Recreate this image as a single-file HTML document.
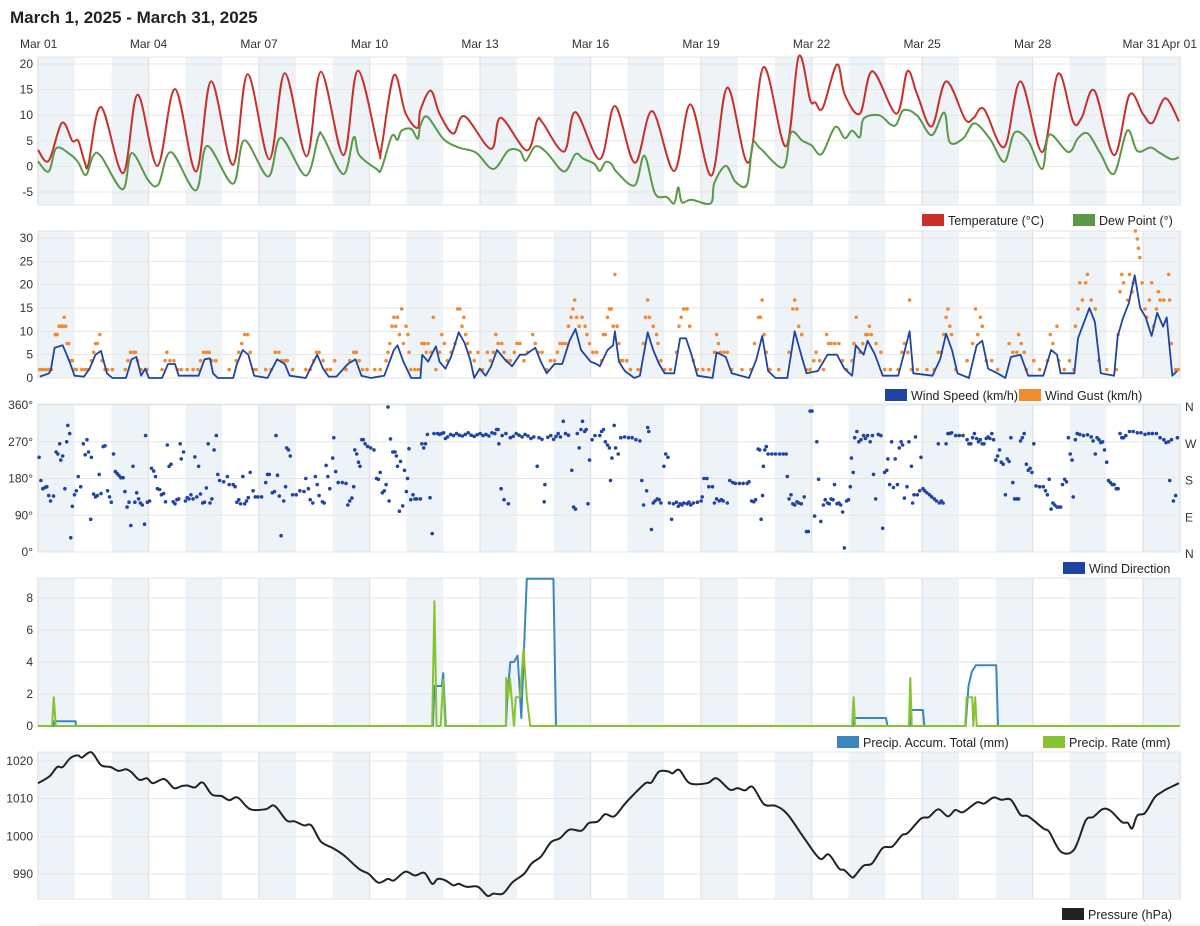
<!DOCTYPE html>
<html><head><meta charset="utf-8"><style>
html,body{margin:0;padding:0;background:#fff;width:1200px;height:926px;overflow:hidden}
svg{display:block;font-family:"Liberation Sans",Arial,sans-serif}
</style></head><body>
<svg id="chart" width="1200" height="926" viewBox="0 0 1200 926" xmlns="http://www.w3.org/2000/svg">
<text x="10" y="23" font-size="17" font-weight="bold" fill="#222">March 1, 2025 - March 31, 2025</text>
<g id="bg"></g><g id="marks"></g><g id="labels"></g>
</svg>
<script>
// ---------- data (days since Mar 01 00:00) ----------
const xTickLabels = ["Mar 01","Mar 04","Mar 07","Mar 10","Mar 13","Mar 16","Mar 19","Mar 22","Mar 25","Mar 28","Mar 31","Apr 01"];
const xTickDays = [0,3,6,9,12,15,18,21,24,27,30,31];

const tempDays = [0,0.29,0.65,0.93,1.09,1.27,1.37,1.71,2.31,2.70,3.24,3.72,4.29,4.70,5.29,5.69,6.28,6.70,7.29,7.68,8.29,8.68,9.24,9.32,9.66,9.97,10.30,10.38,10.66,10.9,11.27,11.58,12.30,12.56,13.27,13.55,13.7,14.28,14.59,15.25,15.66,16.2,16.67,17.27,17.71,18.28,18.71,19.28,19.70,20.30,20.65,20.96,21.1,21.3,21.69,21.9,22.31,22.65,23.3,23.6,23.87,24.26,24.65,25.17,25.4,25.68,26.23,26.67,27.26,27.69,28.10,28.33,28.68,29.21,29.63,29.99,30.25,30.6,30.97];
const tempVals = [3.2,1.1,8.5,5,5,0.8,0.5,11.6,-1.3,14,0.1,15.1,-1.0,16.6,0.3,18,1.4,18.2,2,18.5,2.2,18.7,3.4,3.4,17.8,10.5,7.5,11,14.8,10.3,6.4,9.8,3.4,9.5,3.1,9.0,8.5,2.9,10.6,1.4,11.8,0.7,10.8,-0.9,12.1,-1.8,15.4,0.7,19.4,3.9,21.5,13,12.5,11.4,19.9,14,10.3,18.6,10.3,18.6,14,7.8,16.6,9.2,9.5,11.2,3.8,16.6,2.8,18.1,8.7,9.5,14.8,2.2,14,10.3,8.5,13.3,8.8];

const dewDays = [0,0.29,0.5,0.88,1.09,1.3,1.5,1.71,2.3,2.54,3.0,3.27,3.61,4.28,4.59,5.29,5.6,6.25,6.59,7.27,7.61,7.74,8.29,8.57,8.72,9.19,9.32,9.6,9.76,9.87,10.13,10.31,10.38,10.57,11.0,11.42,11.89,12.36,12.77,13.08,13.24,13.5,13.81,14.28,14.59,14.8,15.1,15.25,15.4,15.56,15.72,16.2,16.46,16.75,17.07,17.27,17.38,17.48,17.74,18.26,18.36,18.67,18.93,19.25,19.4,19.61,20.23,20.44,20.75,21.0,21.27,21.64,21.9,22.1,22.31,22.41,22.83,23.14,23.3,23.5,23.87,24.26,24.6,24.75,25.12,25.42,25.84,26.23,26.51,26.88,27.26,27.45,27.97,28.23,28.5,28.84,29.21,29.57,29.84,30.2,30.4,30.76,30.97];
const dewVals = [1.0,-1.0,3.6,2.3,0.8,-1.7,2.1,2.0,-4.5,2.6,-2.8,-3.5,2.8,-4.7,4,-3.4,5.1,-2,5.6,-1.8,5.8,5.8,-1.5,5.7,2.2,-0.5,-0.5,5.9,5.2,7,7.3,5.4,8,9.7,5.4,3.7,2.7,-0.5,3.1,3,1.1,3.9,2.7,-1,2.4,1.5,0.5,-0.9,0.8,0.5,-1.2,-3.7,2.1,-5.3,-6,-7.2,-4.1,-7,-6.5,-7.2,-3.2,0.1,-3,-3.5,4.4,3.5,-0.2,6.6,5.0,4.1,2.4,7.7,5.5,7,5.7,9.3,10,8.2,8.2,11,9.9,6.1,10.5,4.7,5.5,8.4,5.4,0.9,6.6,5,-0.5,6.2,2.8,5.5,6.4,2.5,-1.4,7.0,3,3.7,2.9,1.4,1.8];

const windDays = [0.05,0.3,0.35,0.45,0.67,0.78,0.88,0.99,1.25,1.4,1.56,1.71,1.87,2.02,2.39,2.54,2.67,2.8,2.91,3.01,3.37,3.53,3.72,3.82,4.36,4.52,4.67,4.75,4.88,5.3,5.4,5.56,5.71,5.87,6.23,6.49,6.7,6.83,7.27,7.42,7.58,7.74,7.89,8.1,8.41,8.62,8.78,9.03,9.4,9.66,9.76,9.92,10.13,10.38,10.43,10.59,10.8,10.9,11.06,11.21,11.42,11.58,11.73,11.84,11.99,12.15,12.3,12.46,12.67,12.87,13.08,13.24,13.5,13.65,13.81,14.02,14.23,14.43,14.59,14.74,15.0,15.16,15.25,15.46,15.61,15.66,15.77,15.93,16.19,16.34,16.55,16.7,16.86,17.01,17.27,17.43,17.59,17.74,17.9,18.31,18.42,18.67,18.83,19.3,19.5,19.66,19.82,20.02,20.34,20.54,20.75,20.86,21.17,21.43,21.69,21.89,22.1,22.2,22.41,22.52,22.72,22.93,23.35,23.5,23.66,23.76,24.28,24.49,24.65,24.81,24.96,25.27,25.48,25.63,25.79,26.05,26.26,26.41,26.67,26.88,27.29,27.5,27.66,27.76,28.13,28.23,28.54,28.69,28.85,29.21,29.31,29.46,29.61,29.77,29.92,30.07,30.23,30.38,30.54,30.64,30.79,30.92];
const windVals = [0.3,1,1.8,6.5,7,5,3,0.5,0.3,2,5,5.8,1,0,0,4,4.5,0.5,2,0,0,3,3,0.5,0.5,4,4.2,1,0,0,3,6,5,0.5,0,4,3,0.5,0,2.5,5,2,0.3,0.3,3,4,0.5,0,0.5,6,7,3.5,0,0,5,3.5,6.8,3.5,2,4.5,9.8,7.5,4,0,2,0.5,2.5,6,4,2.5,5,5,6.5,3.5,1,3,3,8,10.5,6,3.5,3,2.5,6,7,10,3.5,1.5,0,0.5,9.8,6,3,1,1,8.5,8.5,5,0.5,0,5.5,4.5,1,0,4,9,1.5,0,0,10,4,1,1.5,5,5,2,0.5,7,5,8,5,0.5,0.5,5,10,1,0.5,4,9.5,6,1,0,7,8,2,1,0,4.5,5,0.5,0.5,6,5,1,1,8.5,15,12,1,0.5,9,13,16,22,15,13,9,14,11,13,0.5,1.5];

const gustDays = [0.05,0.12,0.21,0.29,0.36,0.47,0.52,0.57,0.62,0.67,0.71,0.75,0.79,0.83,0.88,0.93,0.99,1.04,1.19,1.27,1.35,1.45,1.51,1.56,1.61,1.68,1.74,1.82,1.89,2.02,2.37,2.44,2.51,2.6,2.65,2.7,2.8,2.96,3.37,3.45,3.5,3.58,3.69,3.79,3.89,4.05,4.21,4.34,4.41,4.49,4.57,4.65,4.72,4.83,5.19,5.38,5.45,5.53,5.61,5.69,5.76,5.84,5.92,6.18,6.33,6.44,6.54,6.61,6.7,6.77,6.91,7.27,7.39,7.48,7.56,7.63,7.74,7.84,7.94,8.05,8.36,8.46,8.57,8.64,8.72,8.81,8.93,9.14,9.29,9.45,9.5,9.55,9.61,9.66,9.71,9.76,9.81,9.87,9.92,9.99,10.04,10.07,10.12,10.23,10.33,10.42,10.49,10.54,10.59,10.67,10.73,10.8,10.9,10.96,11.03,11.11,11.21,11.32,11.39,11.45,11.51,11.56,11.61,11.66,11.73,11.84,11.94,12.07,12.2,12.28,12.36,12.43,12.49,12.59,12.65,12.72,12.82,12.93,13.0,13.08,13.19,13.29,13.43,13.5,13.58,13.68,13.81,13.91,14.02,14.1,14.17,14.25,14.33,14.4,14.47,14.52,14.57,14.62,14.69,14.77,14.85,14.9,14.97,15.06,15.16,
15.30,15.35,15.40,15.46,15.51,15.56,15.61,15.66,15.72,15.77,15.82,15.87,15.98,16.08,16.29,16.44,16.49,16.55,16.6,16.70,16.79,16.83,16.91,17.01,17.17,17.33,17.4,17.46,17.53,17.62,17.69,17.79,17.9,18.05,18.21,18.36,18.42,18.47,18.52,18.62,18.71,18.83,19.11,19.35,19.45,19.56,19.61,19.66,19.71,19.77,19.87,20.11,20.39,20.49,20.54,20.6,20.65,20.73,20.86,20.96,21.06,21.12,21.22,21.32,21.41,21.46,21.53,21.63,21.74,21.84,21.95,22.1,22.15,22.21,22.31,22.39,22.47,22.52,22.57,22.62,22.75,22.88,22.98,23.14,23.35,23.45,23.52,23.61,23.66,23.71,23.87,24.13,24.33,24.44,24.52,24.59,24.65,24.70,24.75,24.80,24.91,25.22,25.37,25.45,25.51,25.58,25.63,25.74,25.89,26.05,26.36,26.46,26.57,26.62,26.69,26.77,26.83,27.03,27.19,27.40,27.48,27.55,27.66,27.71,27.86,28.0,28.12,28.16,28.23,28.28,28.35,28.44,28.49,28.59,28.70,28.80,29.01,29.27,29.32,29.37,29.42,29.47,29.58,29.63,29.70,29.73,29.79,29.84,29.87,29.91,29.97,30.05,30.10,30.17,30.23,30.28,30.36,30.41,30.46,30.56,30.69,30.72,30.77,30.88,30.95];
const gustVals = [1.8,1.8,1.8,1.8,1.8,9.3,9.3,11.1,11.1,11.1,13,11.1,7.4,7.4,3.7,3.7,1.8,1.8,1.8,1.8,1.8,3.7,5.5,7.4,7.4,9.3,3.7,1.8,1.8,1.8,1.8,3.7,5.5,5.5,5.5,3.7,1.8,1.8,1.8,3.7,5.5,3.7,3.7,1.8,1.8,1.8,1.8,1.8,3.7,5.5,5.5,5.5,3.7,3.7,1.8,3.7,5.5,7.4,9.3,9.3,5.5,1.8,1.8,1.8,1.8,5.5,5.5,3.7,3.7,3.7,1.8,1.8,1.8,3.7,5.5,5.5,3.7,1.8,1.8,3.7,1.8,3.7,5.5,5.5,3.7,1.8,1.8,1.8,1.8,3.7,5.5,7.4,11.1,13,11.1,13,9.3,14.8,7.4,11.1,9.3,5.5,1.8,1.8,1.8,7.4,7.4,5.5,7.4,5.5,13,1.8,5.5,9.3,7.4,3.7,5.5,7.4,14.8,14.8,11.1,13,9.3,7.4,5.5,3.7,5.5,1.8,5.5,3.7,5.5,9.3,7.4,7.4,5.5,3.7,3.7,5.5,7.4,7.4,3.7,5.5,9.3,7.4,5.5,5.5,1.8,3.7,3.7,5.5,7.4,7.4,7.4,11.1,13,14.8,16.7,13,11.1,13,11.1,9.3,7.4,5.5,5.5,
3.7,9.3,9.3,13,14.8,14.8,11.1,22.2,11.1,7.4,3.7,3.7,3.7,1.8,1.8,7.4,13,16.7,13,11.1,9.3,7.4,3.7,1.8,1.8,5.5,11.1,13,14.8,14.8,11.1,3.7,1.8,1.8,1.8,5.5,9.3,7.4,5.5,5.5,5.5,1.8,1.8,1.8,7.4,13,13,16.7,9.3,5.5,1.8,1.8,5.5,14.8,16.7,14.8,11.1,9.3,1.8,1.8,3.7,5.5,3.7,1.8,9.3,7.4,7.4,7.4,7.4,3.7,1.8,3.7,7.4,13,5.5,7.4,9.3,9.3,11.1,9.3,7.4,5.5,1.8,1.8,1.8,5.5,7.4,5.5,16.7,1.8,1.8,1.8,1.8,5.5,5.5,9.3,13,14.8,11.1,9.3,1.8,3.7,7.4,14.8,9.3,13,11.1,3.7,3.7,1.8,7.4,5.5,5.5,9.3,7.4,5.5,1.8,3.7,1.8,3.7,9.3,7.4,11.1,3.7,1.8,3.7,1.8,11.1,14.8,20.4,16.7,20.4,22.2,16.7,14.8,3.7,1.8,1.8,9.3,18.5,22.2,20.4,16.7,22.2,18.5,20.4,31.5,29.8,27.8,25.8,20.4,14.8,13,16.7,20.4,11.1,14.8,18.5,16.7,16.7,22.2,16.7,7.4,1.8,1.8];

const dirDays = [0.03,0.08,0.13,0.19,0.24,0.29,0.34,0.42,0.49,0.54,0.59,0.62,0.67,0.73,0.78,0.81,0.86,0.89,0.93,0.99,1.04,1.09,1.16,1.23,1.28,1.33,1.37,1.43,1.45,1.51,1.56,1.61,1.66,1.71,1.77,1.82,1.89,1.94,1.99,2.05,2.1,2.15,2.2,2.25,2.31,2.36,2.42,2.47,2.52,2.58,2.63,2.68,2.73,2.78,2.83,2.89,2.92,2.97,3.03,3.08,3.14,3.19,3.24,3.3,3.35,3.41,3.46,3.51,3.56,3.61,3.67,3.72,3.77,3.82,3.86,3.89,3.95,4.0,4.05,4.1,4.15,4.21,4.26,4.31,4.36,4.41,4.47,4.52,4.57,4.62,4.67,4.72,4.78,4.84,4.88,4.93,5.04,5.14,5.19,5.3,5.35,5.4,5.45,5.5,5.56,5.61,5.66,5.71,5.76,5.84,5.9,5.97,6.07,6.18,6.23,6.28,6.36,6.42,6.46,6.5,6.55,6.6,6.67,6.72,6.75,6.8,6.85,6.91,7.01,7.11,7.22,7.27,7.34,7.39,7.46,7.53,7.58,7.63,7.72,7.77,7.82,7.87,7.92,8.0,8.03,8.08,8.15,8.26,8.36,8.41,8.46,8.52,8.57,8.6,8.65,8.7,8.74,8.79,8.83,8.88,8.95,9.03,9.12,9.19,9.24,9.29,9.35,9.4,9.45,9.5,9.53,9.57,9.63,9.69,9.73,9.76,9.81,9.84,9.9,9.95,10.0,10.03,10.07,10.12,10.18,10.23,10.28,10.38,10.42,10.47,10.52,10.57,10.64,10.7,10.75,10.85,10.9,10.96,11.01,11.06,
11.12,11.2,11.28,11.36,11.44,11.52,11.6,11.68,11.76,11.84,11.92,12.0,12.08,12.16,12.24,12.32,12.4,12.45,12.49,12.51,12.57,12.6,12.65,12.7,12.77,12.82,12.9,12.98,13.06,13.14,13.22,13.3,13.38,13.46,13.55,13.6,13.68,13.74,13.76,13.84,13.92,14.0,14.06,14.12,14.18,14.26,14.32,14.4,14.49,14.54,14.59,14.64,14.69,14.74,14.78,14.84,14.88,14.93,14.97,15.04,15.12,
15.25,15.30,15.35,15.40,15.46,15.51,15.54,15.58,15.64,15.68,15.75,15.82,15.92,16.03,16.13,16.23,16.34,16.39,16.44,16.52,16.55,16.58,16.65,16.70,16.75,16.81,16.86,16.91,16.99,17.04,17.10,17.14,17.20,17.25,17.33,17.38,17.43,17.48,17.53,17.62,17.67,17.72,17.79,17.9,18.0,18.03,18.08,18.16,18.21,18.31,18.36,18.42,18.49,18.55,18.6,18.71,18.78,18.86,18.93,19.04,19.14,19.25,19.3,19.37,19.43,19.48,19.55,19.59,19.63,19.67,19.69,19.73,19.77,19.82,19.92,20.02,20.13,20.23,20.31,20.34,20.39,20.44,20.49,20.54,20.6,20.65,20.72,20.8,20.86,20.91,20.96,21.01,21.08,21.14,21.19,21.25,21.32,21.37,21.43,21.48,21.53,21.58,21.62,21.69,21.74,21.79,21.84,21.89,21.95,22.0,22.05,22.08,22.13,22.17,22.23,22.28,22.34,22.41,22.46,22.52,22.59,22.65,22.68,22.74,22.81,22.88,22.93,22.98,23.04,23.07,23.12,23.17,23.22,23.27,23.33,23.38,23.43,23.47,23.52,23.59,23.64,23.71,23.74,23.78,23.82,23.87,23.93,23.97,24.02,24.07,24.13,24.2,24.26,24.33,24.39,24.44,24.47,24.52,24.57,24.65,24.70,24.75,24.80,24.91,25.01,25.11,25.22,25.27,25.32,25.37,25.42,25.48,25.53,25.58,25.63,25.68,25.74,25.79,25.84,25.89,25.94,26.0,26.05,26.1,26.15,26.2,26.26,26.31,26.36,26.41,26.46,26.51,26.57,26.62,26.67,26.72,26.77,26.83,26.88,26.93,26.98,27.03,27.09,27.19,27.29,27.35,27.4,27.45,27.5,27.55,27.6,27.66,27.71,27.76,27.81,27.87,27.92,27.97,28.02,28.07,28.1,28.16,28.21,28.28,28.38,28.49,28.59,28.64,28.7,28.75,28.8,28.85,28.9,28.95,29.01,29.06,29.11,29.16,29.21,29.27,29.32,29.37,29.42,29.47,29.53,29.63,29.73,29.84,29.94,30.05,30.15,30.25,30.36,30.46,30.56,30.62,30.69,30.72,30.77,30.82,30.88,30.93];
const dirVals = [232,175,155,158,160,138,125,137,245,240,265,225,235,155,270,310,290,35,112,140,150,185,160,265,238,275,245,80,232,142,135,138,190,143,258,260,150,135,122,240,197,192,187,182,182,148,110,122,65,210,122,145,130,120,115,68,285,122,125,205,198,185,155,153,140,143,123,262,210,215,123,118,128,130,265,228,245,125,133,130,140,130,233,135,210,142,120,122,157,265,120,130,250,285,190,175,172,185,165,165,160,122,128,118,185,118,125,133,195,150,135,135,135,170,190,190,145,148,285,188,137,40,125,160,255,250,235,140,140,150,148,180,155,128,120,185,165,138,123,120,212,185,155,230,280,197,170,170,168,115,125,132,160,250,240,220,210,275,275,265,258,255,250,180,178,195,145,150,165,355,125,277,245,245,235,210,100,222,113,200,148,180,253,128,140,130,130,130,265,255,265,288,133,45,290,290,288,290,292,278,
282,288,285,290,286,284,288,292,286,283,287,290,285,288,284,292,290,300,300,265,155,285,128,290,118,280,283,290,286,282,288,284,278,282,210,280,276,123,165,281,285,276,283,290,282,320,290,286,200,110,105,290,255,300,320,295,300,118,225,275,285,
285,295,300,270,262,255,175,230,310,255,240,280,282,280,280,275,272,175,115,150,305,295,55,120,125,130,128,120,210,240,232,120,80,118,122,112,118,115,120,118,122,115,120,122,125,135,180,180,160,160,120,130,125,128,125,120,175,170,168,168,168,168,172,125,123,128,252,250,80,138,210,250,258,240,240,240,240,240,240,185,130,140,118,115,123,120,118,135,50,50,345,345,88,270,178,75,115,128,120,118,130,128,165,118,120,115,98,10,125,128,160,230,195,280,295,270,275,285,278,285,270,285,190,130,288,285,58,195,200,228,165,270,158,228,165,255,270,262,132,160,270,210,120,140,282,140,150,232,155,150,145,140,135,130,125,265,120,125,120,265,290,290,292,285,285,285,275,265,265,280,290,278,270,275,265,265,278,282,278,290,275,225,235,250,220,215,140,228,222,280,170,130,130,130,272,280,290,215,200,205,195,265,162,160,160,150,140,178,105,120,115,110,110,110,165,178,172,280,240,225,135,275,290,288,285,287,282,272,240,280,275,268,270,250,220,175,170,165,165,155,155,290,280,280,285,295,295,292,292,288,290,290,290,280,275,268,270,175,275,125,138,280];

const accumDays = [0,0.43,0.44,1.02,1.03,10.72,10.76,10.96,11.0,11.07,12.70,12.74,12.82,12.92,13.02,13.12,13.27,13.99,14.06,22.13,22.16,23.02,23.06,23.67,23.70,24.02,24.06,25.18,25.26,25.35,25.46,26.01,26.06,31];
const accumVals = [0,0,0.3,0.3,0,0,2.5,2.5,3.3,0,0,1.8,4.0,4.0,4.4,0.5,9.2,9.2,0,0,0.5,0.5,0,0,1.0,1.0,0,0,2.5,3.4,3.8,3.8,0,0];
const rateDays = [0,0.38,0.43,0.48,10.70,10.76,10.82,10.93,11.0,11.05,12.70,12.71,12.76,12.81,12.92,12.97,13.08,13.18,13.27,13.36,22.10,22.14,22.18,23.64,23.68,23.72,25.17,25.21,25.36,25.39,25.44,25.48,31];
const rateVals = [0,0,1.8,0,0,7.8,0,0,2.9,0,0,3.0,1.8,3.0,0,1.8,1.8,4.8,1.8,0,0,1.8,0,0,3.0,0,0,1.8,1.8,0,1.8,0,0];

const presDays = [0.0,0.31,0.52,0.67,0.88,1.09,1.19,1.45,1.71,1.97,2.18,2.39,2.54,2.75,2.96,3.12,3.43,3.69,3.89,4.05,4.26,4.47,4.72,4.98,5.19,5.42,5.76,6.18,6.42,6.75,6.96,7.22,7.42,7.68,8.0,8.31,8.72,8.98,9.24,9.5,9.66,9.97,10.23,10.49,10.7,10.85,11.06,11.27,11.42,11.63,11.94,12.2,12.36,12.62,12.88,13.19,13.4,13.66,13.92,14.17,14.43,14.75,14.95,15.16,15.25,15.40,15.64,15.92,16.13,16.49,16.65,16.86,17.12,17.22,17.41,17.69,18.16,18.42,18.78,18.99,19.19,19.40,19.71,20.02,20.34,20.8,21.22,21.46,21.74,21.89,22.1,22.18,22.41,22.64,22.93,23.19,23.45,23.61,23.97,24.18,24.44,24.7,24.9,25.11,25.48,25.68,25.94,26.15,26.41,26.67,26.88,27.29,27.45,27.76,28.12,28.44,28.64,28.9,29.11,29.42,29.58,29.7,29.84,30.05,30.31,30.51,30.67,30.97];
const presVals = [1014.1,1015.9,1018.4,1018.4,1020.8,1021.5,1020.9,1022.3,1018.9,1018.4,1017.4,1017.8,1017.0,1015.0,1015.4,1014.1,1015.2,1012.8,1013.3,1013.5,1013.0,1014.3,1011.1,1010.7,1009.6,1010.3,1007.2,1007.2,1008.1,1004.2,1004.0,1002.9,1002.9,998.6,996.9,994.9,991.3,990.0,987.7,988.7,988.3,990.6,989.6,990.3,987.4,988.7,988.3,987.0,987.4,986.6,986.6,984.2,984.8,984.8,987.8,990.0,992.8,994.7,998.4,999.5,1001.8,1001.5,1003.5,1003.8,1004.4,1005.9,1005.3,1008.5,1010.7,1014.1,1014.3,1017.2,1017.2,1016.7,1017.6,1014.1,1014.1,1015.4,1012.4,1012.8,1012.2,1013.1,1008.5,1008.1,1005.9,999.5,994.1,995.2,991.5,991.0,989.1,989.6,992.2,992.8,996.9,997.3,1000.3,1000.9,1004.7,1005.1,1007.2,1005.3,1007.0,1006.4,1009.0,1008.7,1010.3,1009.7,1009.7,1005.7,1005.3,1002.1,1001.2,996.0,996.4,1004.2,1005.1,1007.2,1006.8,1003.8,1003.6,1002.1,1005.5,1006.2,1010.3,1011.8,1012.7,1014.1];

const tempTicks = [20,15,10,5,0,-5];
const windTicks = [30,25,20,15,10,5,0];
const dirTicks = [360,270,180,90,0];
const dirCompass = ["N","W","S","E","N"];
const precipTicks = [8,6,4,2,0];
const presTicks = [1020,1010,1000,990];

// ---------- layout ----------
const NS = "http://www.w3.org/2000/svg";
const X0 = 38, X1 = 1180, NDAYS = 31;
function xs(d){ return X0 + (X1 - X0) * d / NDAYS; }
function lin(v0, y0, v1, y1){ return v => y0 + (v - v0) * (y1 - y0) / (v1 - v0); }
const panels = [
  {name:"temperature", top:57, bottom:205, y:lin(20,64,-5,192), ticks:tempTicks, fmt:v=>String(v)},
  {name:"wind", top:231, bottom:378, y:lin(30,238,0,378), ticks:windTicks, fmt:v=>String(v)},
  {name:"direction", top:404, bottom:552, y:lin(360,405,0,552), ticks:dirTicks, fmt:v=>v+"°"},
  {name:"precip", top:578, bottom:726, y:lin(8,598,0,726), ticks:precipTicks, fmt:v=>String(v)},
  {name:"pressure", top:752, bottom:899, y:lin(1020,761,990,874), ticks:presTicks, fmt:v=>String(v)}
];
const bg = document.getElementById("bg"), marks = document.getElementById("marks"), labels = document.getElementById("labels");
function mk(tag, attrs, parent){ const e = document.createElementNS(NS, tag); for (const k in attrs) e.setAttribute(k, attrs[k]); parent.appendChild(e); return e; }

xTickDays.forEach((d,i)=>{
  const t = mk("text",{x: xs(d), y:48, "font-size":12, fill:"#333", "text-anchor": i===0 ? "start" : (i===11 ? "end" : "middle")}, labels);
  if (i===0) t.setAttribute("x", 20);
  if (i===10) t.setAttribute("x", xs(d) - 2);
  if (i===11) t.setAttribute("x", 1197);
  t.textContent = xTickLabels[i];
  
  
});

panels.forEach(p=>{
  const g = mk("g",{}, bg);
  
  
  for (let d = 0; d < NDAYS; d += 2) {
    const r = mk("rect",{x:xs(d), y:p.top, width:xs(d+1)-xs(d), height:p.bottom-p.top, fill:"#eef3f8"}, g);
    
    
  }
  xTickDays.forEach(d=>{
    const l = mk("line",{x1:xs(d), x2:xs(d), y1:p.top, y2:p.bottom, stroke:"#e2e4e8", "stroke-width":1.5}, g);
    
    
  });
  p.ticks.forEach((v,i)=>{
    const yy = p.y(v);
    const l = mk("line",{x1:X0, x2:X1, y1:yy, y2:yy, stroke:"#e6e6e6", "stroke-width":1}, g);
    
    
    const t = mk("text",{x:33, y:yy+4, "font-size":12, fill:"#333", "text-anchor":"end"}, labels);
    t.textContent = p.fmt(v);
    
    
    if (p.name === "direction") {
      const c = mk("text",{x:1185, y:yy+6, "font-size":12, fill:"#333"}, labels);
      c.textContent = dirCompass[i];
      
      
    }
  });
  const f = mk("rect",{x:X0, y:p.top, width:X1-X0, height:p.bottom-p.top, fill:"none", stroke:"#e4e4e4", "stroke-width":1}, g);
  
  
});

function pathStr(days, vals, yf, smooth){
  const P = days.map((t,i)=>[xs(t), yf(vals[i])]);
  if (!smooth) return P.map((p,i)=>(i?"L":"M")+p[0].toFixed(1)+","+p[1].toFixed(1)).join("");
  let d = "M"+P[0][0].toFixed(1)+","+P[0][1].toFixed(1);
  for (let i = 0; i < P.length-1; i++){
    const p0 = P[Math.max(0,i-1)], p1 = P[i], p2 = P[i+1], p3 = P[Math.min(P.length-1,i+2)];
    const c1 = [p1[0]+(p2[0]-p0[0])/6, p1[1]+(p2[1]-p0[1])/6];
    const c2 = [p2[0]-(p3[0]-p1[0])/6, p2[1]-(p3[1]-p1[1])/6];
    d += "C"+c1[0].toFixed(1)+","+c1[1].toFixed(1)+" "+c2[0].toFixed(1)+","+c2[1].toFixed(1)+" "+p2[0].toFixed(1)+","+p2[1].toFixed(1);
  }
  return d;
}
function line(days, vals, yf, color, w, name, smooth){
  const p = mk("path",{d:pathStr(days, vals, yf, smooth), fill:"none", stroke:color, "stroke-width":w, "stroke-linejoin":"round"}, marks);
  
  
}
function dots(days, vals, yf, color, r, name){
  days.forEach((t,i)=>{
    const c = mk("circle",{cx:xs(t).toFixed(1), cy:yf(vals[i]).toFixed(1), r:r, fill:color}, marks);
    
    
  });
}
line(tempDays, tempVals, panels[0].y, "#c9302c", 2, "temperature-line", true);
line(dewDays, dewVals, panels[0].y, "#5a9a46", 2, "dew-point-line", true);
dots(gustDays, gustVals, panels[1].y, "#f28a30", 1.8, "wind-gust-point");
line(windDays, windVals, panels[1].y, "#1f45a3", 1.8, "wind-speed-line", false);
dots(dirDays, dirVals, panels[2].y, "#1f45a3", 1.8, "wind-direction-point");
line(accumDays, accumVals, panels[3].y, "#3a87c0", 2, "precip-accum-line", false);
line(rateDays, rateVals, panels[3].y, "#86c232", 2, "precip-rate-line", false);
line(presDays, presVals, panels[4].y, "#222222", 2, "pressure-line", true);

const legends = [
  {y:220, items:[["#c9302c",922,"Temperature (°C)"],["#5a9a46",1073,"Dew Point (°)"]]},
  {y:395, items:[["#1f45a3",885,"Wind Speed (km/h)"],["#f28a30",1019,"Wind Gust (km/h)"]]},
  {y:568, items:[["#1f45a3",1063,"Wind Direction"]]},
  {y:742, items:[["#3a87c0",837,"Precip. Accum. Total (mm)"],["#86c232",1043,"Precip. Rate (mm)"]]},
  {y:914, items:[["#222222",1062,"Pressure (hPa)"]]}
];
legends.forEach(L=>{
  L.items.forEach(it=>{
    const g = mk("g",{}, labels);
    
    
    mk("rect",{x:it[1], y:L.y-6, width:22, height:12, fill:it[0]}, g);
    const t = mk("text",{x:it[1]+26, y:L.y+5, "font-size":12.5, fill:"#222"}, g);
    t.textContent = it[2];
  });
});
const hr = mk("line",{x1:38, x2:1200, y1:925, y2:925, stroke:"#e6e6e6"}, labels);


</script>
</body></html>
